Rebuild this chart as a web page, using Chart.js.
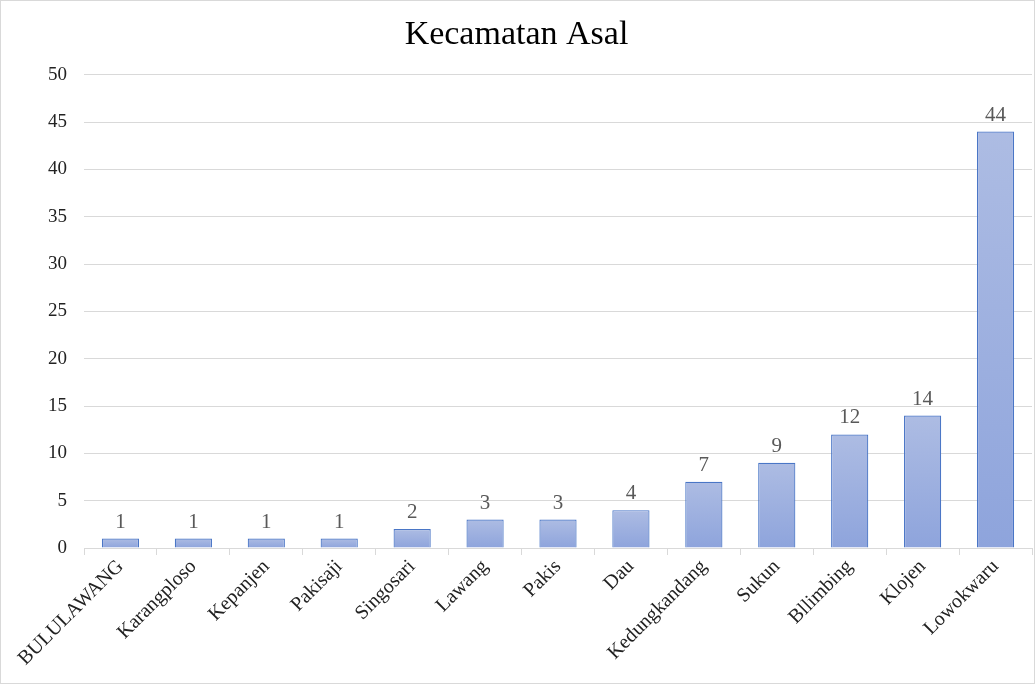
<!DOCTYPE html>
<html>
<head>
<meta charset="utf-8">
<script src="https://cdn.jsdelivr.net/npm/chart.js@4"></script>
<style>
  html, body { margin: 0; padding: 0; background: #fff; }
  #wrap { width: 1033px; height: 682px; border: 1px solid #d9d9d9; }
</style>
</head>
<body>
<div id="wrap"><canvas id="kecChart" width="1033" height="682"></canvas></div>
<script>
const categories = ["BULULAWANG", "Karangploso", "Kepanjen", "Pakisaji", "Singosari", "Lawang",
  "Pakis", "Dau", "Kedungkandang", "Sukun", "Bllimbing", "Klojen", "Lowokwaru"];
const values = [1, 1, 1, 1, 2, 3, 3, 4, 7, 9, 12, 14, 44];
const yTicks = [0, 5, 10, 15, 20, 25, 30, 35, 40, 45, 50];

const FONT = "'Liberation Serif', 'Times New Roman', serif";

// labels above each bar
const valueLabels = {
  id: "valueLabels",
  afterDatasetsDraw(chart) {
    const ctx = chart.ctx;
    const meta = chart.getDatasetMeta(0);
    ctx.save();
    ctx.font = "21px " + FONT;
    ctx.fillStyle = "#595959";
    ctx.textAlign = "center";
    ctx.textBaseline = "bottom";
    meta.data.forEach((bar, i) => {
      ctx.fillText(values[i], bar.x, bar.y - 6);
    });
    ctx.restore();
  }
};

// gradient per bar, lighter at top
function barGradient(context) {
  const chart = context.chart;
  const y = chart.scales && chart.scales.y;
  if (!chart.chartArea || !y || context.raw === undefined) return "#a0b2e0";
  const top = y.getPixelForValue(context.raw);
  const bottom = y.getPixelForValue(0);
  const g = chart.ctx.createLinearGradient(0, top, 0, bottom);
  g.addColorStop(0, "#adbce3");
  g.addColorStop(1, "#8ea4dc");
  return g;
}

const ctx = document.getElementById("kecChart").getContext("2d");

new Chart(ctx, {
  type: "bar",
  data: {
    labels: categories,
    datasets: [{
      label: "Kecamatan Asal",
      data: values,
      backgroundColor: barGradient,
      borderColor: "#4a76c6",
      borderWidth: 1.2,
      barPercentage: 0.51,
      categoryPercentage: 1
    }]
  },
  options: {
    responsive: false,
    animation: false,
    layout: { padding: { left: 0, right: 2, top: 8, bottom: 0 } },
    plugins: {
      legend: { display: false },
      tooltip: { enabled: false },
      title: {
        display: true,
        text: "Kecamatan Asal",
        color: "#000",
        font: { family: FONT, size: 34, weight: "normal" },
        padding: { top: 6, bottom: 19 }
      }
    },
    scales: {
      y: {
        min: 0,
        max: 50,
        afterBuildTicks(scale) { scale.ticks = yTicks.map(v => ({ value: v })); },
        afterFit(scale) { scale.width = 83; },
        ticks: { color: "#222", font: { family: FONT, size: 19 }, padding: 17 },
        grid: { color: "#d9d9d9", drawTicks: false },
        border: { display: false }
      },
      x: {
        afterFit(scale) { scale.height = 135; },
        ticks: {
          color: "#222",
          font: { family: FONT, size: 20 },
          maxRotation: 45,
          minRotation: 45,
          padding: 0
        },
        grid: { offset: true, drawOnChartArea: false, color: "#d9d9d9", tickLength: 7 },
        border: { color: "#d9d9d9" }
      }
    }
  },
  plugins: [valueLabels]
});
</script>
</body>
</html>
